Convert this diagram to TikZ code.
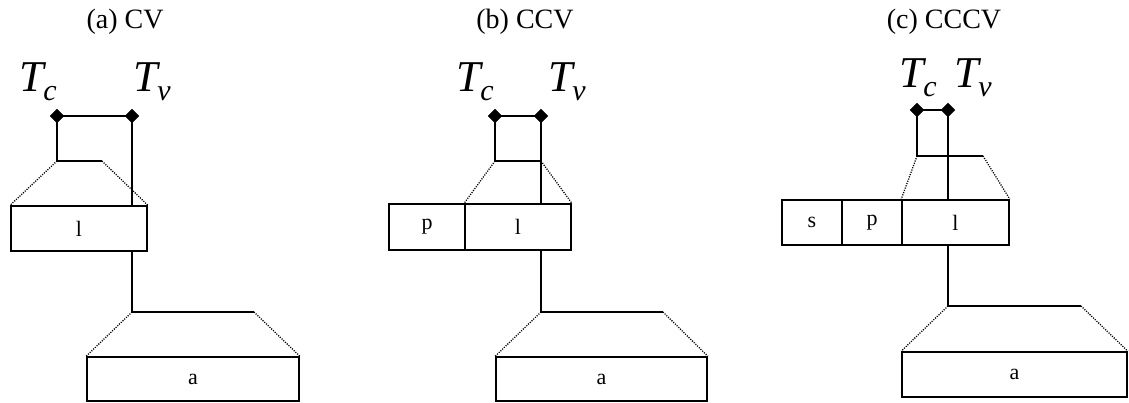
\documentclass[tikz,border=0pt]{standalone}
\usepackage{fontspec}
\setmainfont{Liberation Serif}
\usetikzlibrary{shapes.geometric}
\newcommand{\TT}[1]{\fontsize{44}{44}\selectfont\textit{T}\kern-3pt\raisebox{-9pt}{\fontsize{30}{30}\selectfont\textit{#1}}}
\tikzset{
  conn/.style={line width=1.6pt},
  zoomline/.style={line width=1.3pt, dash pattern=on 1.1pt off 1.3pt},
  box/.style={draw, line width=1.6pt, rectangle, inner sep=0pt, font=\fontsize{22}{22}\selectfont},
  dia/.style={diamond, fill=black, draw=black, inner sep=0pt, minimum size=14pt},
  ttl/.style={anchor=base, inner sep=0pt, font=\fontsize{28}{28}\selectfont},
  tlab/.style={anchor=base west, inner sep=0pt}
}
\begin{document}
\begin{tikzpicture}[x=1pt,y=-1pt]
\useasboundingbox (0,0) rectangle (1129,403);
% ---------- (a) CV ----------
\node[ttl] (ta) at (125,29) {(a) CV};
\node[tlab] (tca) at (19,92) {\TT{c}};
\node[tlab] (tva) at (133,92) {\TT{v}};
\node[box, minimum width=136pt, minimum height=45pt] (la) at (79,228.5) {l};
\node[box, minimum width=212pt, minimum height=44pt] (aa) at (193,379) {a};
\coordinate (dca) at (57,116);
\coordinate (dva) at (132,116);
\coordinate (ca1) at (57,161);
\coordinate (ca2) at (102,161);
\coordinate (ab1) at (132,312);
\coordinate (ab2) at (254,312);
\draw[conn] (dca) -- (dva);
\draw[conn] (dca) -- (ca1) -- (ca2);
\draw[conn] (dva) -- (dva |- la.north);
\draw[zoomline] (ca1) -- (la.north west);
\draw[zoomline] (ca2) -- (la.north east);
\draw[conn] (la.south -| dva) -- (ab1) -- (ab2);
\draw[zoomline] (ab1) -- (aa.north west);
\draw[zoomline] (ab2) -- (aa.north east);
\node[dia] (dcan) at (dca) {};
\node[dia] (dvan) at (dva) {};
% ---------- (b) CCV ----------
\node[ttl] (tb) at (525,29) {(b) CCV};
\node[tlab] (tcb) at (456,92) {\TT{c}};
\node[tlab] (tvb) at (548,92) {\TT{v}};
\node[box, minimum width=76pt, minimum height=46pt] (pb) at (427,227) {p};
\node[box, minimum width=106pt, minimum height=46pt] (lb) at (518,227) {l};
\node[box, minimum width=211pt, minimum height=44pt] (ab) at (601.5,379) {a};
\coordinate (dcb) at (495,116);
\coordinate (dvb) at (541,116);
\coordinate (cb1) at (495,161);
\coordinate (cb2) at (541,161);
\coordinate (bb1) at (541,312);
\coordinate (bb2) at (663,312);
\draw[conn] (dcb) -- (dvb);
\draw[conn] (dcb) -- (cb1) -- (cb2);
\draw[conn] (dvb) -- (dvb |- lb.north);
\draw[zoomline] (cb1) -- (lb.north west);
\draw[zoomline] (cb2) -- (lb.north east);
\draw[conn] (lb.south -| dvb) -- (bb1) -- (bb2);
\draw[zoomline] (bb1) -- (ab.north west);
\draw[zoomline] (bb2) -- (ab.north east);
\node[dia] (dcbn) at (dcb) {};
\node[dia] (dvbn) at (dvb) {};
% ---------- (c) CCCV ----------
\node[ttl] (tc) at (944,29) {(c) CCCV};
\node[tlab] (tcc) at (899,88) {\TT{c}};
\node[tlab] (tvc) at (954,88) {\TT{v}};
\node[box, minimum width=60pt, minimum height=45pt] (sc) at (812,222.5) {s};
\node[box, minimum width=60pt, minimum height=45pt] (pc) at (872,222.5) {p};
\node[box, minimum width=107pt, minimum height=45pt] (lc) at (955.5,222.5) {l};
\node[box, minimum width=225pt, minimum height=45pt] (ac) at (1014.5,374.5) {a};
\coordinate (dcc) at (917,110);
\coordinate (dvc) at (948,110);
\coordinate (cc1) at (917,156);
\coordinate (cc2) at (983,156);
\coordinate (cb1c) at (948,306);
\coordinate (cb2c) at (1081,306);
\draw[conn] (dcc) -- (dvc);
\draw[conn] (dcc) -- (cc1) -- (cc2);
\draw[conn] (dvc) -- (dvc |- lc.north);
\draw[zoomline] (cc1) -- (lc.north west);
\draw[zoomline] (cc2) -- (lc.north east);
\draw[conn] (lc.south -| dvc) -- (cb1c) -- (cb2c);
\draw[zoomline] (cb1c) -- (ac.north west);
\draw[zoomline] (cb2c) -- (ac.north east);
\node[dia] (dccn) at (dcc) {};
\node[dia] (dvcn) at (dvc) {};
\end{tikzpicture}
\end{document}
